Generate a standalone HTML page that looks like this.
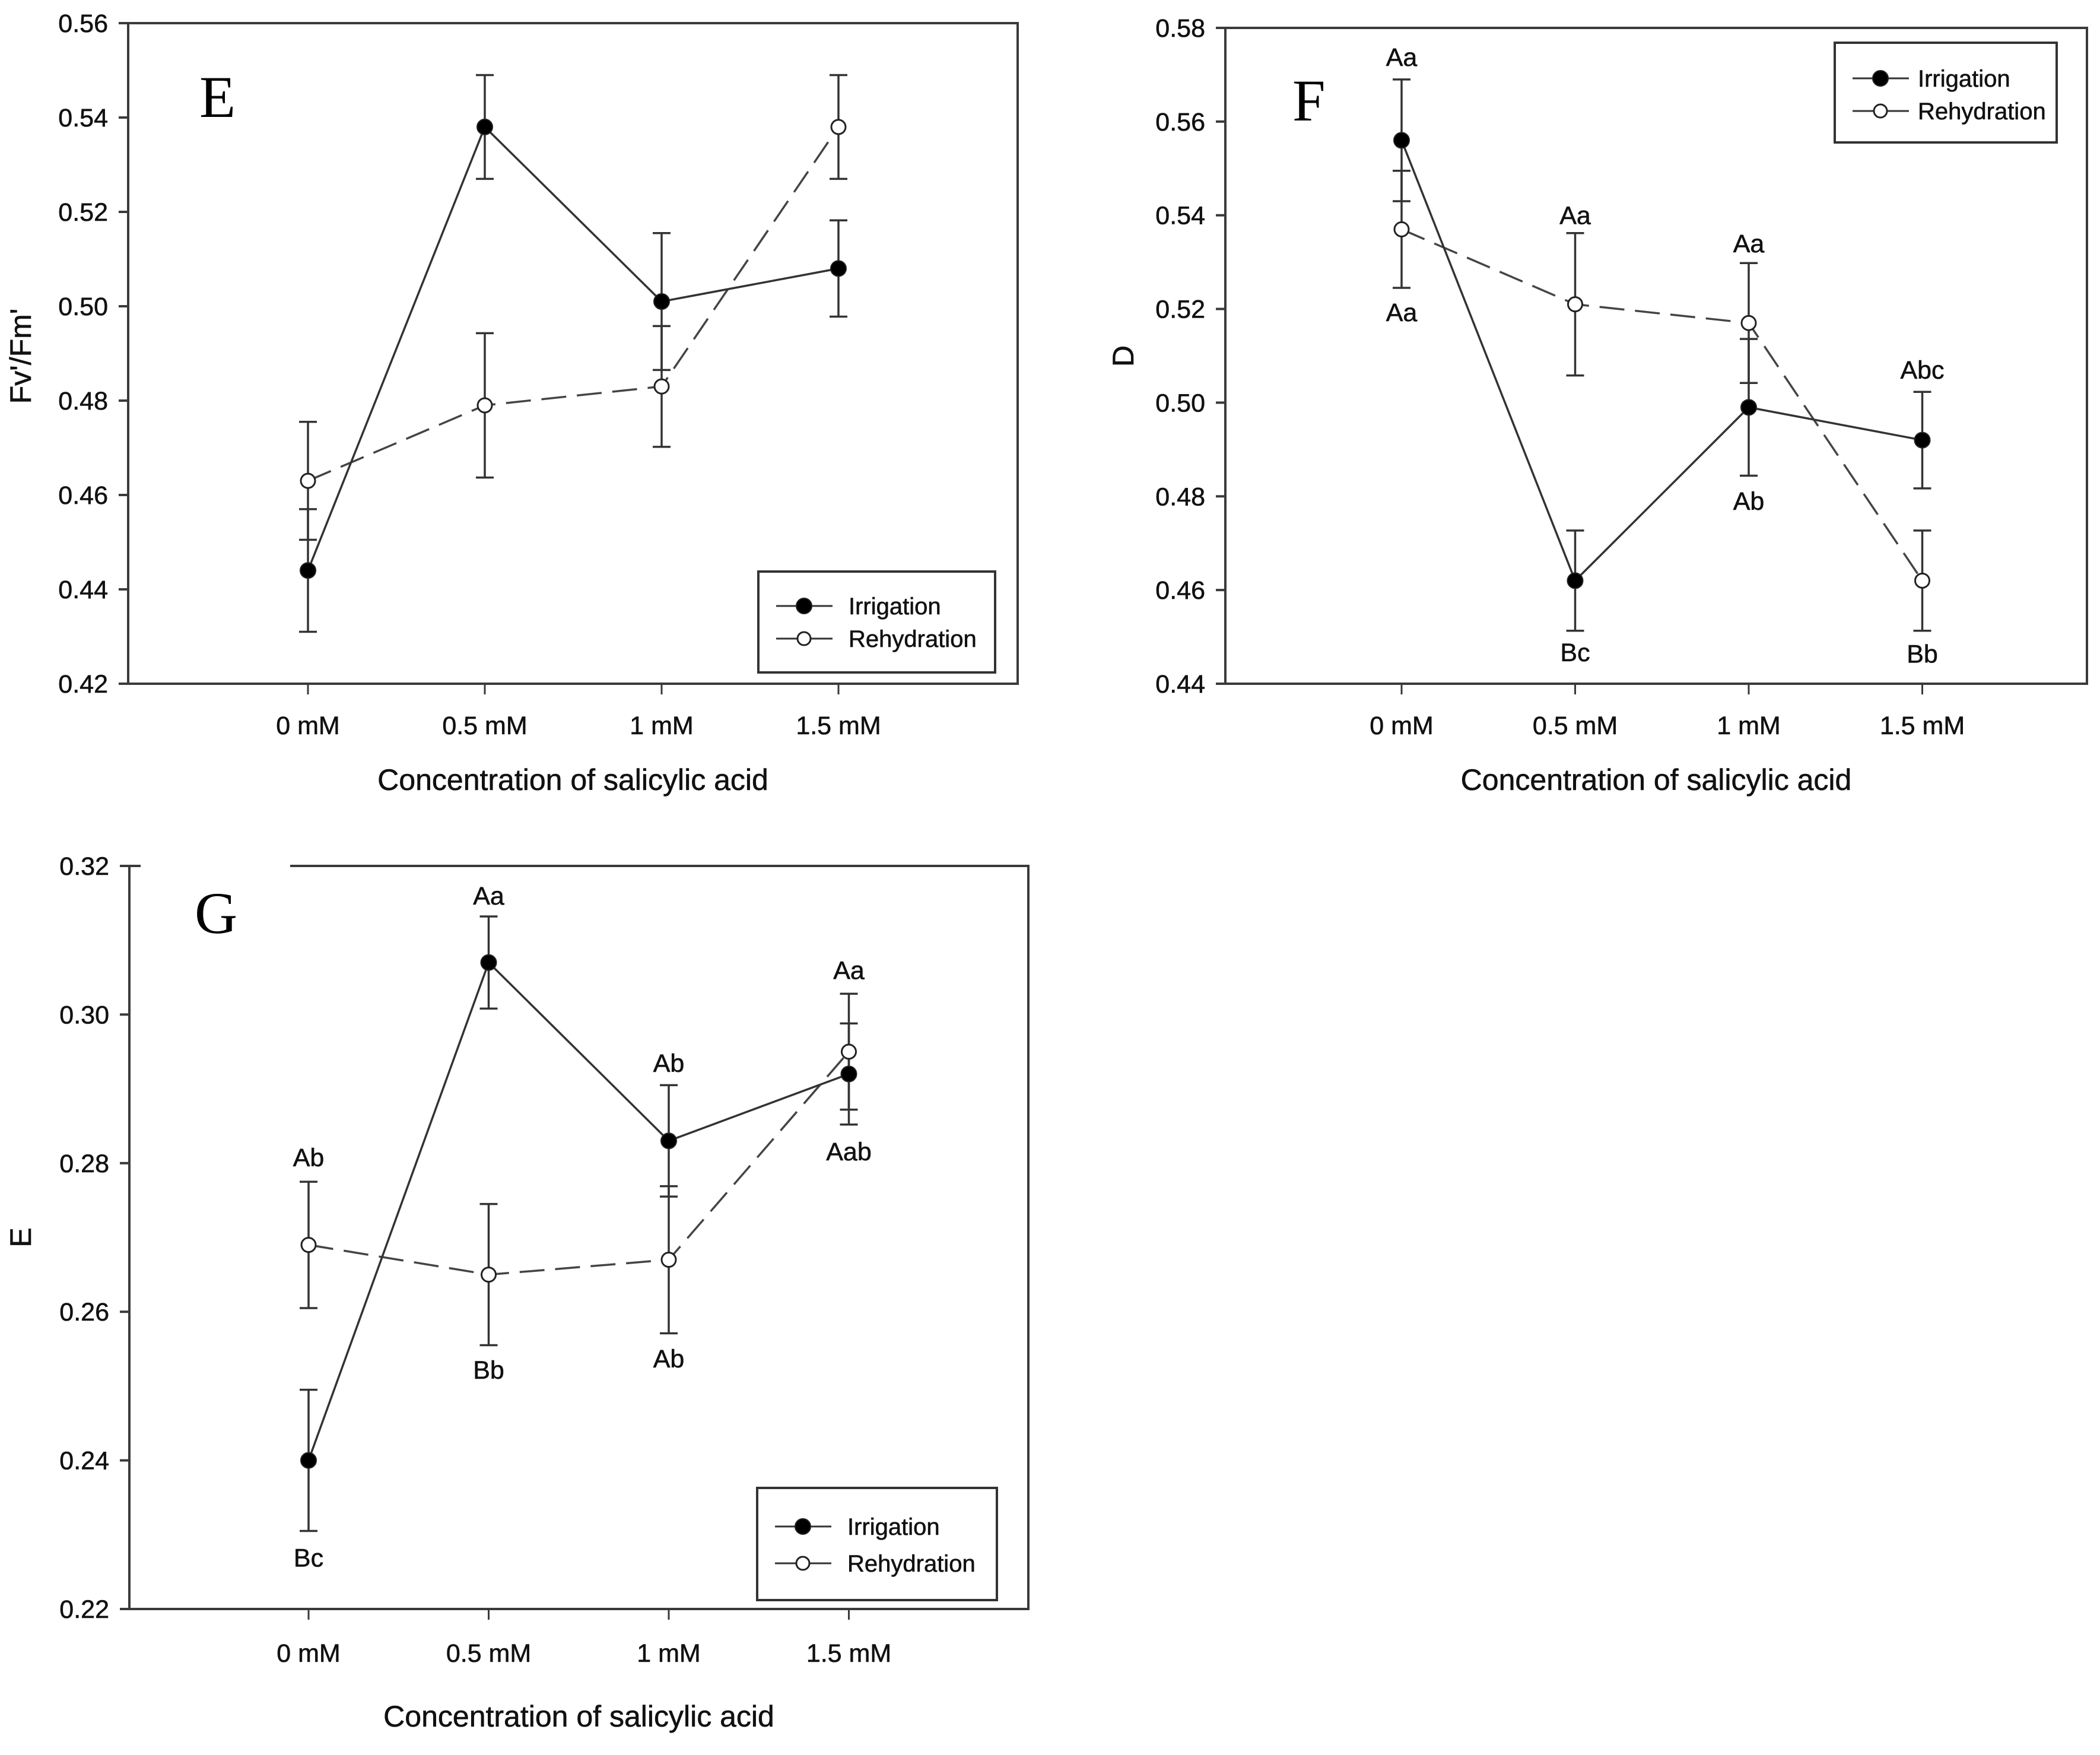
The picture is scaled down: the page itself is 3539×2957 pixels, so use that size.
<!DOCTYPE html>
<html><head><meta charset="utf-8"><style>
html,body{margin:0;padding:0;background:#fff;}
svg{display:block;}
text{font-family:"Liberation Sans",Arial,sans-serif;fill:#111;stroke:#111;stroke-width:0.6;}
</style></head><body>
<svg id="fig" width="3539" height="2957" viewBox="0 0 3539 2957" xmlns="http://www.w3.org/2000/svg"></svg>
<script>
// ---- shared data ----
const categories = ["0 mM","0.5 mM","1 mM","1.5 mM"];
const seriesNames = ["Irrigation","Rehydration"];

// Panel E (Fv'/Fm')
const eTicks = [0.42,0.44,0.46,0.48,0.50,0.52,0.54,0.56];
const eIrr = [0.444,0.538,0.501,0.508];
const eIrrErr = [0.013,0.011,0.0145,0.0102];
const eReh = [0.463,0.479,0.483,0.538];
const eRehErr = [0.0125,0.0153,0.0128,0.011];

// Panel F (D)
const fTicks = [0.44,0.46,0.48,0.50,0.52,0.54,0.56,0.58];
const fIrr = [0.556,0.462,0.499,0.492];
const fIrrErr = [0.013,0.0107,0.0146,0.0103];
const fReh = [0.537,0.521,0.517,0.462];
const fRehErr = [0.0125,0.0152,0.0128,0.0107];
const fLabelText = ["Aa","Aa","Aa","Bc","Aa","Ab","Abc","Bb"];
const fLabelCat = [0,0,1,1,2,2,3,3];
const fLabelVal = [0.5738,0.5193,0.540,0.4467,0.534,0.479,0.507,0.4464];

// Panel G (E)
const gTicks = [0.22,0.24,0.26,0.28,0.30,0.32];
const gIrr = [0.240,0.307,0.283,0.292];
const gIrrErr = [0.0095,0.0062,0.0075,0.0068];
const gReh = [0.269,0.265,0.267,0.295];
const gRehErr = [0.0085,0.0095,0.0099,0.0078];
const gLabelText = ["Ab","Bc","Aa","Bb","Ab","Ab","Aa","Aab"];
const gLabelCat = [0,0,1,1,2,2,3,3];
const gLabelVal = [0.2808,0.2269,0.316,0.2522,0.2935,0.2537,0.306,0.2816];

const NS = "http://www.w3.org/2000/svg";
const svg = document.getElementById("fig");
function mk(tag, attrs, parent){
  const e = document.createElementNS(NS, tag);
  for (const k in attrs) e.setAttribute(k, attrs[k]);
  (parent||svg).appendChild(e);
  return e;
}
const AX = "#3a3a3a";

function panel(cfg){
  const g = mk("g", {});
  
  
  const L=cfg.L,R=cfg.R,T=cfg.T,B=cfg.B;
  const ymin=cfg.ticks[0], ymax=cfg.ticks[cfg.ticks.length-1];
  const y = v => B - (v-ymin)/(ymax-ymin)*(B-T);
  const x = i => cfg.x0 + i*cfg.dx;

  const frame = mk("g", {}, g);
  
  
  mk("line",{x1:L,y1:T,x2:L,y2:B,stroke:AX,"stroke-width":4},frame);
  mk("line",{x1:L-2,y1:B,x2:R+2,y2:B,stroke:AX,"stroke-width":4},frame);
  mk("line",{x1:R,y1:T,x2:R,y2:B,stroke:AX,"stroke-width":4},frame);
  if (cfg.topGap){
    mk("line",{x1:L-2,y1:T,x2:cfg.topGap[0],y2:T,stroke:AX,"stroke-width":4},frame);
    mk("line",{x1:cfg.topGap[1],y1:T,x2:R+2,y2:T,stroke:AX,"stroke-width":4},frame);
  } else {
    mk("line",{x1:L-2,y1:T,x2:R+2,y2:T,stroke:AX,"stroke-width":4},frame);
  }

  cfg.ticks.forEach(t=>{
    const yy=y(t);
    const tk = mk("line",{x1:L-16,y1:yy,x2:L,y2:yy,stroke:AX,"stroke-width":4},g);
    
    
    const tl = mk("text",{x:L-34,y:yy+15,"font-size":43,"text-anchor":"end"},g);
    tl.textContent = t.toFixed(2);
    
    
  });
  categories.forEach((c,i)=>{
    const tk = mk("line",{x1:x(i),y1:B,x2:x(i),y2:B+18,stroke:AX,"stroke-width":3},g);
    
    
    const tl = mk("text",{x:x(i),y:cfg.tickLabelY+15,"font-size":43,"text-anchor":"middle"},g);
    tl.textContent = c;
    
    
  });
  const xt = mk("text",{x:(L+R)/2,y:cfg.xTitleY+18,"font-size":50,"text-anchor":"middle"},g);
  xt.textContent = "Concentration of salicylic acid";
  
  
  const yt = mk("text",{x:0,y:0,"font-size":50,"text-anchor":"middle",
    transform:`translate(${cfg.yTitleX},${cfg.yTitleY}) rotate(-90)`},g);
  yt.textContent = cfg.yTitle;
  
  
  const pl = mk("text",{x:cfg.letterX,y:cfg.letterY,"font-size":100,
    style:'font-family:"Liberation Serif",serif;fill:#000;stroke:none'},g);
  pl.textContent = cfg.letter;
  
  

  const irrPts = cfg.irr.map((v,i)=>`${x(i)},${y(v)}`).join(" ");
  const rehPts = cfg.reh.map((v,i)=>`${x(i)},${y(v)}`).join(" ");
  const l2 = mk("polyline",{points:rehPts,fill:"none",stroke:"#444","stroke-width":3.5,"stroke-dasharray":"42 18"},g);
  
  
  const l1 = mk("polyline",{points:irrPts,fill:"none",stroke:"#333","stroke-width":3.5},g);
  
  

  function errbar(v,e,i,nm){
    const eb = mk("g",{},g);
    
    
    const xx=x(i), y1=y(v+e), y2=y(v-e);
    mk("line",{x1:xx,y1:y1,x2:xx,y2:y2,stroke:"#333","stroke-width":3.5},eb);
    mk("line",{x1:xx-15,y1:y1,x2:xx+15,y2:y1,stroke:"#333","stroke-width":3.5},eb);
    mk("line",{x1:xx-15,y1:y2,x2:xx+15,y2:y2,stroke:"#333","stroke-width":3.5},eb);
  }
  cfg.irr.forEach((v,i)=>errbar(v,cfg.irrErr[i],i,'irrigation-error-bar'));
  cfg.reh.forEach((v,i)=>errbar(v,cfg.rehErr[i],i,'rehydration-error-bar'));
  cfg.irr.forEach((v,i)=>{
    const m = mk("circle",{cx:x(i),cy:y(v),r:13,fill:"#000",stroke:"#222","stroke-width":2},g);
    
    
  });
  cfg.reh.forEach((v,i)=>{
    const m = mk("circle",{cx:x(i),cy:y(v),r:12,fill:"#fff",stroke:"#222","stroke-width":3},g);
    
    
  });
  if (cfg.labText){
    cfg.labText.forEach((t,k)=>{
      const lb = mk("text",{x:x(cfg.labCat[k]),y:y(cfg.labVal[k])+15,"font-size":43,"text-anchor":"middle"},g);
      lb.textContent = t;
      
      
    });
  }
  const lg = mk("g",{},g);
  
  
  const Lg = cfg.legend;
  mk("rect",{x:Lg.x,y:Lg.y,width:Lg.w,height:Lg.h,fill:"#fff",stroke:"#333","stroke-width":4},lg);
  seriesNames.forEach((s,k)=>{
    const ry = Lg.y + Lg.r1 + k*Lg.dr;
    const en = mk("g",{},lg);
    
    
    mk("line",{x1:Lg.x+30,y1:ry,x2:Lg.x+125,y2:ry,stroke:"#333","stroke-width":3},en);
    mk("circle",{cx:Lg.x+77,cy:ry,r:k?11:13,fill:k?"#fff":"#000",stroke:"#222","stroke-width":k?3:2},en);
    const tx = mk("text",{x:Lg.x+(Lg.tx||152),y:ry+14,"font-size":40},en);
    tx.textContent = s;
  });
}

panel({name:"panel-e",L:216,R:1715,T:39,B:1152,ticks:eTicks,x0:519,dx:298,
  irr:eIrr,irrErr:eIrrErr,reh:eReh,rehErr:eRehErr,
  tickLabelY:1222,xTitleY:1313,yTitle:"Fv'/Fm'",yTitleX:52,yTitleY:600,
  letter:"E",letterX:336,letterY:197,
  legend:{x:1278,y:963,w:399,h:170,r1:58,dr:55}});

panel({name:"panel-f",L:2065,R:3517,T:47,B:1152,ticks:fTicks,x0:2362,dx:292.5,
  irr:fIrr,irrErr:fIrrErr,reh:fReh,rehErr:fRehErr,
  labText:fLabelText,labCat:fLabelCat,labVal:fLabelVal,
  tickLabelY:1222,xTitleY:1313,yTitle:"D",yTitleX:1910,yTitleY:600,
  letter:"F",letterX:2178,letterY:203,
  legend:{x:3092,y:72,w:374,h:168,r1:60,dr:55,tx:140}});

panel({name:"panel-g",L:218,R:1733,T:1459,B:2711,ticks:gTicks,x0:520,dx:303.5,
  irr:gIrr,irrErr:gIrrErr,reh:gReh,rehErr:gRehErr,
  labText:gLabelText,labCat:gLabelCat,labVal:gLabelVal,
  tickLabelY:2785,xTitleY:2891,yTitle:"E",yTitleX:52,yTitleY:2085,
  letter:"G",letterX:328,letterY:1572,topGap:[237,489],
  legend:{x:1276,y:2507,w:404,h:189,r1:65,dr:62}});
</script>
</body></html>
